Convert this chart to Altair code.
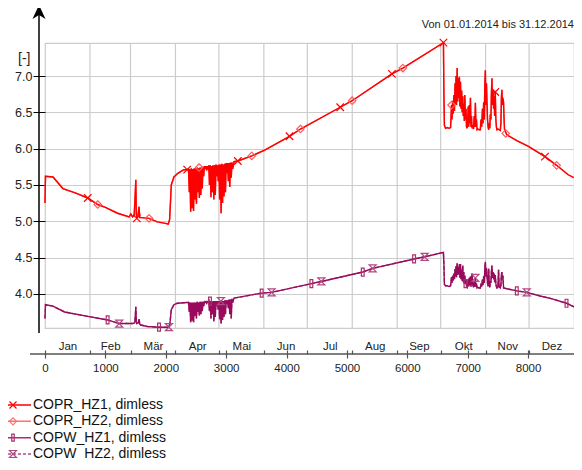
import altair as alt
import pandas as pd

# ---------------- data ----------------
month_names = ["Jan", "Feb", "Mär", "Apr", "Mai", "Jun", "Jul", "Aug", "Sep", "Okt", "Nov", "Dez"]
month_starts = [0, 744, 1416, 2160, 2880, 3624, 4344, 5088, 5832, 6552, 7296, 8016, 8760]
x_ticks = [0, 1000, 2000, 3000, 4000, 5000, 6000, 7000, 8000]
y_ticks = [4.0, 4.5, 5.0, 5.5, 6.0, 6.5, 7.0]

copr_hours = [
    0, 8, 132, 297, 500, 708, 873, 1000, 1202, 1394, 1421, 1450, 1476, 1490, 1504, 1512, 1520,
    1540, 1558, 1568, 1600, 1723, 1860, 1997, 2040, 2063, 2080, 2091, 2135, 2200, 2299, 2354,
    2376, 2390, 2400, 2412, 2424, 2436, 2448, 2460, 2472, 2484, 2496, 2508, 2520, 2532, 2544,
    2556, 2568, 2580, 2592, 2604, 2616, 2628, 2640, 2652, 2664, 2676, 2688, 2700, 2712, 2724,
    2736, 2748, 2760, 2772, 2784, 2796, 2808, 2820, 2832, 2844, 2856, 2868, 2880, 2892, 2904,
    2916, 2928, 2940, 2952, 2964, 2976, 2988, 3000, 3012, 3024, 3036, 3048, 3060, 3072, 3084,
    3096, 3108, 3130, 3193, 3424, 3638, 4049, 4230, 4889, 5086, 5745, 5926, 6598,
    6606, 6614, 6633, 6660, 6690, 6716, 6724, 6732, 6740, 6750, 6760, 6770, 6780, 6790, 6798,
    6806, 6814, 6825, 6834, 6844, 6853, 6862, 6870, 6880, 6890, 6900, 6908, 6918, 6926, 6935,
    6944, 6952, 6962, 6972, 6980, 6990, 7000, 7008, 7016, 7026, 7036, 7045, 7054, 7062, 7072,
    7084, 7096, 7108, 7118, 7127, 7136, 7145, 7154, 7170, 7190, 7209, 7220, 7232, 7244, 7254,
    7264, 7274, 7284, 7292, 7300, 7310, 7319, 7328, 7338, 7347, 7356, 7366, 7374, 7384, 7392,
    7401, 7410, 7420, 7429, 7438, 7446, 7456, 7466, 7475, 7484, 7500, 7520, 7539, 7550, 7558,
    7566, 7574, 7582, 7593, 7602, 7610, 7648, 7813, 8005, 8280, 8472, 8664, 8760,
]
copr_values = [
    5.25, 5.62, 5.61, 5.45, 5.39, 5.32, 5.23, 5.19, 5.11, 5.06, 5.10, 5.06, 5.08, 5.30, 5.57, 5.10, 5.04,
    5.08, 5.20, 5.05, 5.05, 5.04, 4.99, 4.97, 4.96, 5.02, 5.30, 5.50, 5.61, 5.66, 5.71, 5.71,
    5.72, 5.40, 5.72, 5.13, 5.73, 5.18, 5.72, 5.14, 5.73, 5.30, 5.73, 5.24, 5.74, 5.40, 5.73,
    5.32, 5.74, 5.36, 5.74, 5.45, 5.75, 5.62, 5.76, 5.72, 5.76, 5.70, 5.76, 5.73, 5.77, 5.50,
    5.77, 5.33, 5.76, 5.40, 5.77, 5.30, 5.77, 5.36, 5.78, 5.62, 5.77, 5.55, 5.78, 5.30, 5.78,
    5.11, 5.79, 5.25, 5.78, 5.34, 5.79, 5.40, 5.80, 5.66, 5.80, 5.55, 5.80, 5.47, 5.81, 5.60,
    5.81, 5.72, 5.82, 5.83, 5.90, 5.98, 6.17, 6.27, 6.57, 6.66, 7.03, 7.11, 7.46,
    6.72, 6.32, 6.28, 6.29, 6.28, 6.29, 6.45, 6.60, 6.40, 6.66, 6.48, 6.74, 6.52, 6.90, 6.62,
    7.00, 6.60, 7.11, 6.65, 6.97, 6.70, 6.99, 6.58, 6.92, 6.55, 6.80, 6.50, 6.72, 6.45, 6.62,
    6.38, 6.74, 6.40, 6.55, 6.30, 6.28, 6.40, 6.58, 6.30, 6.60, 6.35, 6.70, 6.30, 6.45, 6.28,
    6.32, 6.27, 6.45, 6.30, 6.63, 6.30, 6.40, 6.26, 6.27, 6.26, 6.26, 6.40, 6.30, 6.55, 6.35,
    6.64, 6.40, 6.90, 7.08, 6.60, 6.90, 6.64, 6.40, 6.30, 6.26, 6.35, 6.28, 6.47, 6.40, 6.75,
    6.97, 6.60, 6.80, 6.55, 6.72, 6.45, 6.78, 6.40, 6.30, 6.26, 6.27, 6.26, 6.25, 6.35, 6.70,
    6.81, 6.60, 6.70, 6.64, 6.40, 6.26, 6.19, 6.11, 6.03, 5.89, 5.77, 5.64, 5.60,
]

copw_hours = [
    0, 8, 132, 324, 708, 1037, 1229, 1449, 1487, 1496, 1504, 1512, 1520, 1545, 1558, 1570, 1586,
    1696, 1888, 2052, 2070, 2091, 2135, 2190, 2354,
    2376, 2390, 2400, 2412, 2424, 2436, 2448, 2460, 2472, 2484, 2496, 2508, 2520, 2532, 2544,
    2556, 2568, 2580, 2592, 2604, 2616, 2628, 2640, 2652, 2664, 2676, 2688, 2700, 2712, 2724,
    2736, 2748, 2760, 2772, 2784, 2796, 2808, 2820, 2832, 2844, 2856, 2868, 2880, 2892, 2904,
    2916, 2928, 2940, 2952, 2964, 2976, 2988, 3000, 3012, 3024, 3036, 3048, 3060, 3072, 3084,
    3096, 3108, 3130, 3588, 3753, 4411, 4576, 5262, 5426, 6112, 6288, 6598,
    6606, 6614, 6633, 6660, 6690, 6716, 6724, 6732, 6740, 6750, 6760, 6770, 6780, 6790, 6798,
    6806, 6814, 6825, 6834, 6844, 6853, 6862, 6870, 6880, 6890, 6900, 6908, 6918, 6926, 6935,
    6944, 6952, 6962, 6972, 6980, 6990, 7000, 7008, 7016, 7026, 7036, 7045, 7054, 7062, 7072,
    7084, 7096, 7108, 7118, 7127, 7136, 7145, 7154, 7170, 7190, 7209, 7220, 7232, 7244, 7254,
    7264, 7274, 7284, 7292, 7300, 7310, 7319, 7328, 7338, 7347, 7356, 7366, 7374, 7384, 7392,
    7401, 7410, 7420, 7429, 7438, 7446, 7456, 7466, 7475, 7484, 7500, 7511, 7520, 7539, 7550,
    7558, 7566, 7574, 7582, 7594, 7648, 7813, 7978, 8200, 8400, 8636, 8760,
]
copw_values = [
    3.66, 3.85, 3.83, 3.75, 3.69, 3.64, 3.59, 3.59, 3.60, 3.70, 3.82, 3.62, 3.59, 3.60, 3.65, 3.58, 3.57,
    3.55, 3.54, 3.54, 3.60, 3.78, 3.85, 3.87, 3.88,
    3.88, 3.75, 3.88, 3.61, 3.88, 3.63, 3.88, 3.61, 3.88, 3.70, 3.88, 3.66, 3.89, 3.75, 3.88,
    3.70, 3.89, 3.72, 3.89, 3.76, 3.89, 3.83, 3.89, 3.88, 3.89, 3.87, 3.89, 3.88, 3.90, 3.76,
    3.90, 3.66, 3.89, 3.72, 3.90, 3.62, 3.90, 3.68, 3.90, 3.83, 3.90, 3.78, 3.90, 3.65, 3.90,
    3.59, 3.91, 3.64, 3.90, 3.68, 3.91, 3.72, 3.91, 3.86, 3.91, 3.80, 3.92, 3.72, 3.92, 3.66,
    3.93, 3.88, 3.94, 4.01, 4.02, 4.14, 4.17, 4.30, 4.35, 4.48, 4.51, 4.57,
    4.40, 4.13, 4.11, 4.11, 4.10, 4.11, 4.17, 4.23, 4.15, 4.25, 4.18, 4.28, 4.20, 4.34, 4.24,
    4.38, 4.23, 4.42, 4.26, 4.37, 4.27, 4.41, 4.22, 4.41, 4.20, 4.33, 4.18, 4.39, 4.16, 4.30,
    4.14, 4.25, 4.14, 4.20, 4.10, 4.09, 4.14, 4.20, 4.10, 4.22, 4.12, 4.24, 4.10, 4.16, 4.28,
    4.12, 4.09, 4.16, 4.10, 4.22, 4.10, 4.14, 4.08, 4.09, 4.08, 4.08, 4.14, 4.10, 4.20, 4.12,
    4.24, 4.15, 4.36, 4.44, 4.24, 4.36, 4.25, 4.15, 4.10, 4.35, 4.14, 4.09, 4.18, 4.15, 4.30,
    4.39, 4.22, 4.30, 4.20, 4.28, 4.16, 4.26, 4.14, 4.10, 4.08, 4.09, 4.33, 4.10, 4.08, 4.12,
    4.26, 4.30, 4.20, 4.25, 4.08, 4.07, 4.04, 4.02, 3.97, 3.93, 3.87, 3.82,
]

copr_hz1_marker_hours = [708, 1520, 2354, 3193, 4049, 4889, 5745, 6598, 7456, 8280]
copr_hz1_marker_values = [5.32, 5.04, 5.71, 5.83, 6.17, 6.57, 7.03, 7.46, 6.78, 5.89]
copr_hz2_marker_hours = [873, 1723, 2551, 3424, 4230, 5086, 5926, 6732, 7630, 8472]
copr_hz2_marker_values = [5.23, 5.04, 5.74, 5.90, 6.27, 6.66, 7.11, 6.60, 6.21, 5.77]
copw_hz1_marker_hours = [1037, 1888, 2732, 3588, 4411, 5262, 6112, 6963, 7813, 8636]
copw_hz1_marker_values = [3.64, 3.54, 3.90, 4.01, 4.14, 4.30, 4.48, 4.14, 4.04, 3.87]
copw_hz2_marker_hours = [1229, 2052, 2913, 3753, 4576, 5426, 6288, 7127, 7978]
copw_hz2_marker_values = [3.59, 3.54, 3.90, 4.02, 4.17, 4.35, 4.51, 4.22, 4.02]

series_names = ["COPR_HZ1, dimless", "COPR_HZ2, dimless", "COPW_HZ1, dimless", "COPW_HZ2, dimless"]
title_text = "Von 01.01.2014 bis 31.12.2014"
y_title = "[-]"

# ---------------- styling ----------------
FONT = "Liberation Sans"
W, H = 529, 285
PAD_L, PAD_T = 37, 35
AXIS_Y = H + 26
Y_DOM = [3.529, 7.455]

RED = "#ff0000"
RED2 = "#ff5c5c"
PUR = "#990a5c"
PUR_M1 = "#a8306e"
PUR_M2 = "#b04a82"

X_PATH = "M-1,-1L1,1M-1,1L1,-1"
DIAMOND_PATH = "M0,-1L1,0L0,1L-1,0Z"
BAR_PATH = "M-0.35,-1H0.35V1H-0.35Z"
HOURGLASS_PATH = "M-1,-1H1L-1,1H1Z"
ARROW_PATH = "M0,-1L0.93,1L0,0.43L-0.93,1Z"

xs = alt.Scale(domain=[0, 8760], nice=False, zero=False)
ys = alt.Scale(domain=Y_DOM, nice=False, zero=False)

month_centers = [(a + b) / 2 for a, b in zip(month_starts[:-1], month_starts[1:])]
names_js = "[" + ",".join("'%s'" % n for n in month_names) + "]"
centers_js = "[" + ",".join("%g" % c for c in month_centers) + "]"
month_label_expr = "%s[indexof(%s, datum.value)]" % (names_js, centers_js)

copr_df = pd.DataFrame({"h": copr_hours, "v": copr_values})
copw_df = pd.DataFrame({"h": copw_hours, "v": copw_values})

# vertical month grid + month tick axis
grid = alt.Chart(pd.DataFrame({"h": month_starts[1:-1]})).mark_rule(
    color="#cccccc", strokeWidth=1.2
).encode(
    x=alt.X("h:Q", scale=xs, axis=alt.Axis(
        orient="top", offset=-AXIS_Y, values=month_starts[1:-1], labels=False,
        ticks=True, tickSize=4, tickColor="#555555", tickWidth=1.2,
        domain=False, grid=False, title=None))
)

month_axis = alt.Axis(
    orient="top", offset=-AXIS_Y, values=month_centers, labelExpr=month_label_expr,
    ticks=False, domain=False, grid=False, labelPadding=3, labelFontSize=11.5,
    labelColor="#222222", labelFont=FONT, labelFlush=False, labelOverlap=False, title=None)

number_axis = alt.Axis(
    orient="bottom", offset=22, values=x_ticks, format="d", tickSize=8,
    tickColor="#555555", tickWidth=1.2, domain=False, grid=False, labelPadding=4,
    labelFontSize=11.5, labelColor="#222222", labelFont=FONT, labelFlush=False,
    labelOverlap=False, title=None)

y_axis = alt.Axis(
    orient="left", values=y_ticks, format=".1f", tickSize=12, tickColor="black",
    tickWidth=1, domain=False, grid=True, gridColor="#cccccc", gridWidth=1.2,
    labelPadding=1, labelFontSize=12.5, labelColor="#222222", labelFont=FONT,
    title=y_title, titleAngle=0, titleX=-15, titleY=15, titleAlign="right",
    titleBaseline="middle", titleFontSize=14, titleFontWeight="normal",
    titleFont=FONT, titleColor="#222222")

copr_hz2_line = alt.Chart(copr_df).mark_line(color=RED2, strokeWidth=1.4).encode(
    x=alt.X("h:Q", scale=xs, axis=month_axis),
    y=alt.Y("v:Q", scale=ys, axis=None))
copr_hz1_line = alt.Chart(copr_df).mark_line(color=RED, strokeWidth=1.4).encode(
    x=alt.X("h:Q", scale=xs, axis=None),
    y=alt.Y("v:Q", scale=ys, axis=y_axis))
copw_hz2_line = alt.Chart(copw_df).mark_line(color=PUR_M2, strokeWidth=1.4, strokeDash=[4, 2]).encode(
    x=alt.X("h:Q", scale=xs, axis=None),
    y=alt.Y("v:Q", scale=ys, axis=None))
copw_hz1_line = alt.Chart(copw_df).mark_line(color=PUR, strokeWidth=1.4).encode(
    x=alt.X("h:Q", scale=xs, axis=number_axis),
    y=alt.Y("v:Q", scale=ys, axis=None))


def markers(hours, values, shape, color, size=64):
    df = pd.DataFrame({"h": hours, "v": values})
    return alt.Chart(df).mark_point(
        shape=shape, filled=False, color=color, size=size, strokeWidth=1.2, opacity=1
    ).encode(x=alt.X("h:Q", scale=xs, axis=None), y=alt.Y("v:Q", scale=ys, axis=None))


m1 = markers(copr_hz1_marker_hours, copr_hz1_marker_values, X_PATH, RED, 56)
m2 = markers(copr_hz2_marker_hours, copr_hz2_marker_values, DIAMOND_PATH, RED2, 56)
m3 = markers(copw_hz1_marker_hours, copw_hz1_marker_values, BAR_PATH, PUR_M1, 64)
m4 = markers(copw_hz2_marker_hours, copw_hz2_marker_values, HOURGLASS_PATH, PUR_M2, 49)

# axis decorations (y-axis line with arrow, x-axis line)
one = alt.Data(values=[{"k": 0}])
y_line = alt.Chart(one).mark_rule(color="black", strokeWidth=1.5).encode(
    x=alt.value(-6), y=alt.value(-30), y2=alt.value(H + 5))
y_arrow = alt.Chart(one).mark_point(
    shape=ARROW_PATH, filled=True, color="black", size=196, opacity=1, strokeWidth=0
).encode(x=alt.value(-6), y=alt.value(-31))
x_line = alt.Chart(one).mark_rule(color="#555555", strokeWidth=1.5).encode(
    x=alt.value(-15), x2=alt.value(W), y=alt.value(AXIS_Y))

# legend
leg_df = pd.DataFrame({"name": series_names})
leg_y = alt.Y("name:N", scale=alt.Scale(type="point", domain=series_names, range=[362, 411], padding=0), axis=None)
leg_color = alt.Color("name:N", scale=alt.Scale(domain=series_names, range=[RED, "#ff7070", PUR_M1, PUR_M2]), legend=None)
leg_dash = alt.StrokeDash("name:N", scale=alt.Scale(domain=series_names, range=[[1, 0], [1, 0], [1, 0], [3, 2]]), legend=None)
leg_shape = alt.Shape("name:N", scale=alt.Scale(domain=series_names, range=[X_PATH, DIAMOND_PATH, BAR_PATH, HOURGLASS_PATH]), legend=None)

leg_rule = alt.Chart(leg_df).mark_rule(strokeWidth=1.5).encode(
    x=alt.value(-PAD_L), x2=alt.value(-14), y=leg_y, color=leg_color, strokeDash=leg_dash)
leg_pt = alt.Chart(leg_df).mark_point(filled=False, size=49, strokeWidth=1.2, opacity=1).encode(
    x=alt.value(-PAD_L + 5), y=leg_y, color=leg_color, shape=leg_shape)
leg_text = alt.Chart(leg_df).mark_text(align="left", baseline="middle", fontSize=14, font=FONT, color="#111111").encode(
    x=alt.value(-12), y=leg_y, text="name:N")

chart = alt.layer(
    grid, copr_hz2_line, copr_hz1_line, copw_hz2_line, copw_hz1_line,
    m2, m1, m4, m3, x_line, y_line, y_arrow, leg_rule, leg_pt, leg_text,
).resolve_scale(y="independent").resolve_axis(x="independent", y="independent").properties(
    width=W, height=H,
    autosize=alt.AutoSizeParams(type="none"),
    padding={"left": PAD_L, "top": PAD_T, "right": 0, "bottom": 452 - PAD_T - H},
    title=alt.TitleParams(title_text, anchor="end", frame="group", fontSize=11,
                          fontWeight="normal", font=FONT, color="#222222", offset=0, dy=25),
).configure_view(stroke="#cccccc", strokeWidth=1.2)

chart.save("out.html", embed_options={"renderer": "svg", "actions": False})
